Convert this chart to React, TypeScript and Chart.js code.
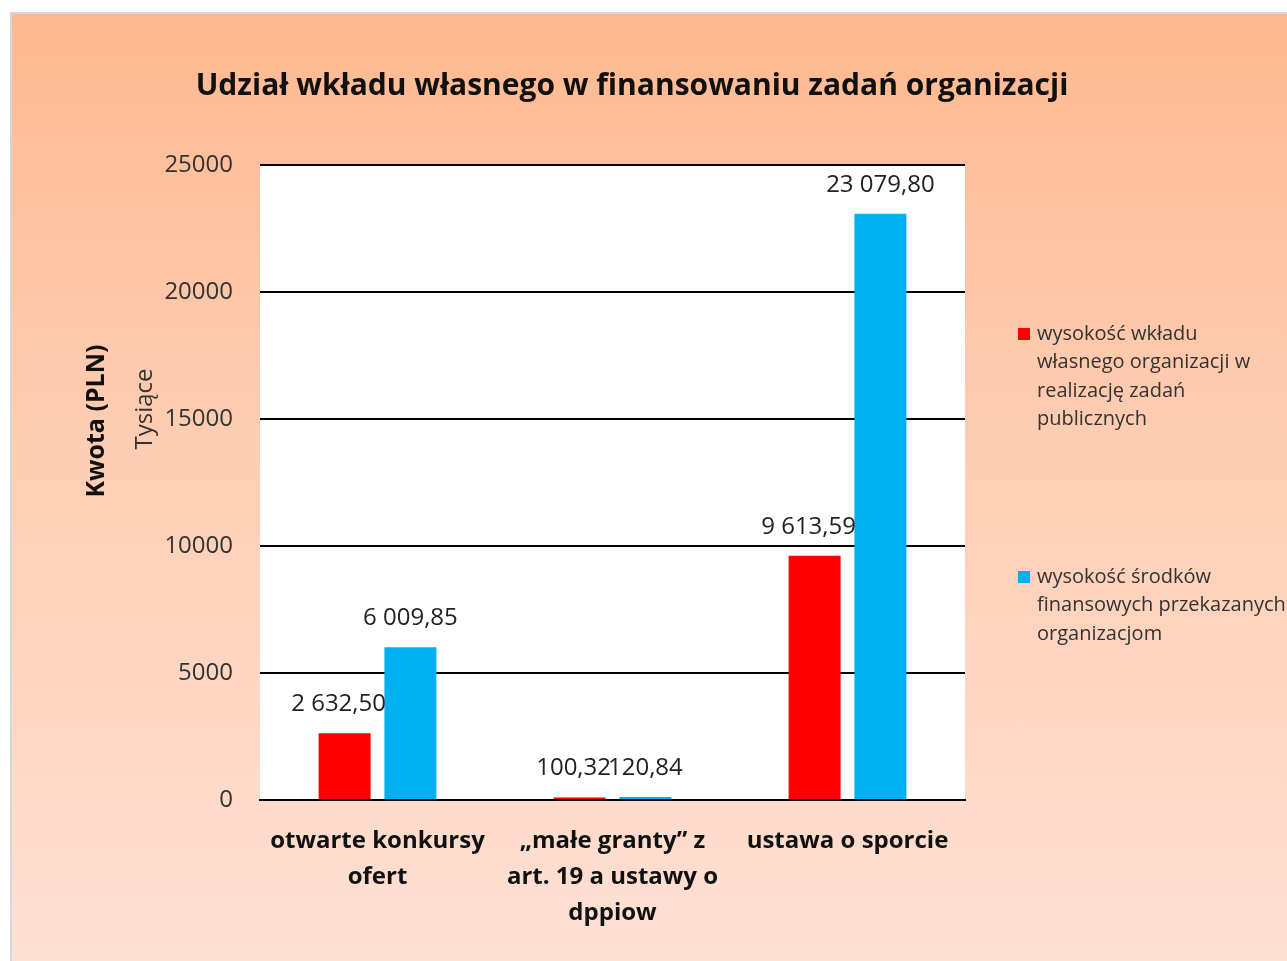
import React, { useEffect, useRef } from "react";
import { Chart, registerables } from "chart.js";

Chart.register(...registerables);

const categories: string[][] = [
  ["otwarte konkursy", "ofert"],
  ["„małe granty” z", "art. 19 a ustawy o", "dppiow"],
  ["ustawa o sporcie"],
];
const ownContribution = [2632.5, 100.32, 9613.59];
const transferredFunds = [6009.85, 120.84, 23079.8];
const seriesNames = [
  ["wysokość wkładu", "własnego organizacji w", "realizację zadań", "publicznych"],
  ["wysokość środków", "finansowych przekazanych", "organizacjom"],
];
const chartTitle = "Udział wkładu własnego w finansowaniu zadań organizacji";
const yTitle = "Kwota (PLN)";
const yUnit = "Tysiące";

const FONT = "'Open Sans', 'Noto Sans', sans-serif";
const RED = "#FF0000";
const BLUE = "#00B0F0";

function fmt(v: number): string {
  const [i, d] = v.toFixed(2).split(".");
  const withSp = i.replace(/\B(?=(\d{3})+(?!\d))/g, " ");
  return withSp + "," + d;
}

const decorPlugin = {
  id: "decor",
  beforeDraw(chart: any) {
    const { ctx, chartArea } = chart;
    ctx.save();
    ctx.fillStyle = "#FFFFFF";
    ctx.fillRect(chartArea.left, chartArea.top, chartArea.right - chartArea.left, chartArea.bottom - chartArea.top);
    ctx.restore();
  },
  afterDraw(chart: any) {
    const { ctx } = chart;
    ctx.save();
    // title
    ctx.fillStyle = "#111111";
    ctx.font = `bold 30px ${FONT}`;
    ctx.textAlign = "center";
    ctx.textBaseline = "middle";
    ctx.fillText(chartTitle, 632, 86);
    // y titles
    ctx.save();
    ctx.translate(97, 421);
    ctx.rotate(-Math.PI / 2);
    ctx.font = `bold 25px ${FONT}`;
    ctx.fillStyle = "#111111";
    ctx.fillText(yTitle, 0, 0);
    ctx.restore();
    ctx.save();
    ctx.translate(145, 409);
    ctx.rotate(-Math.PI / 2);
    ctx.font = `24px ${FONT}`;
    ctx.fillStyle = "#333333";
    ctx.fillText(yUnit, 0, 0);
    ctx.restore();
    // data labels
    ctx.font = `24px ${FONT}`;
    ctx.fillStyle = "#222222";
    ctx.textAlign = "center";
    ctx.textBaseline = "middle";
    chart.data.datasets.forEach((ds: any, di: number) => {
      const meta = chart.getDatasetMeta(di);
      meta.data.forEach((bar: any, i: number) => {
        const dx = di === 0 ? -6 : 0;
        ctx.fillText(fmt(ds.data[i]), bar.x + dx, bar.y - 29);
      });
    });
    // legend
    const colors = [RED, BLUE];
    const starts = [334, 577];
    ctx.textAlign = "left";
    ctx.textBaseline = "middle";
    ctx.font = `20px ${FONT}`;
    seriesNames.forEach((lines, si) => {
      ctx.fillStyle = colors[si];
      ctx.fillRect(1018, starts[si] - 6, 12, 12);
      ctx.fillStyle = "#333333";
      lines.forEach((ln, li) => {
        ctx.fillText(ln, 1037, starts[si] + li * 28.5);
      });
    });
    ctx.restore();
  },
};

export default function App() {
  const ref = useRef<HTMLCanvasElement>(null);
  useEffect(() => {
    if (!ref.current) return;
    const chart = new Chart(ref.current, {
      type: "bar",
      data: {
        labels: categories,
        datasets: [
          { label: seriesNames[0].join(" "), data: ownContribution, backgroundColor: RED },
          { label: seriesNames[1].join(" "), data: transferredFunds, backgroundColor: BLUE },
        ],
      },
      options: {
        animation: false,
        responsive: false,
        maintainAspectRatio: false,
        layout: { padding: { left: 0, top: 165, right: 322, bottom: 0 } },
        datasets: { bar: { categoryPercentage: 0.56, barPercentage: 0.79 } },
        plugins: { legend: { display: false }, title: { display: false }, tooltip: { enabled: false } },
        scales: {
          x: {
            grid: { display: false, drawTicks: false },
            border: { display: true, color: "#000000", width: 2 },
            ticks: {
              color: "#111111",
              font: { family: FONT, size: 24, weight: "bold", lineHeight: 1.5 },
              padding: 23,
              maxRotation: 0,
              autoSkip: false,
            },
            afterFit(scale: any) {
              scale.height = 161;
            },
          },
          y: {
            min: 0,
            max: 25000,
            grid: { color: "#000000", lineWidth: 2, drawTicks: false },
            border: { display: false },
            ticks: {
              stepSize: 5000,
              color: "#333333",
              font: { family: FONT, size: 24 },
              padding: 27,
              callback: (v: any) => String(v),
            },
            afterFit(scale: any) {
              scale.width = 260;
            },
          },
        },
      } as any,
      plugins: [decorPlugin],
    });
    return () => chart.destroy();
  }, []);
  return (
    <div style={{ position: "absolute", left: 0, top: 0, width: 1287, height: 961, background: "#FFFFFF", overflow: "hidden" }}>
      <div
        style={{
          position: "absolute",
          left: 10,
          top: 12,
          width: 1290,
          height: 960,
          boxSizing: "border-box",
          border: "2px solid #D6D6D6",
          background: "linear-gradient(to bottom, #FEB990 0%, #FECDB3 45%, #FEE1D5 100%)",
        }}
      />
      <canvas ref={ref} width={1287} height={961} style={{ position: "absolute", left: 0, top: 0 }} />
    </div>
  );
}
